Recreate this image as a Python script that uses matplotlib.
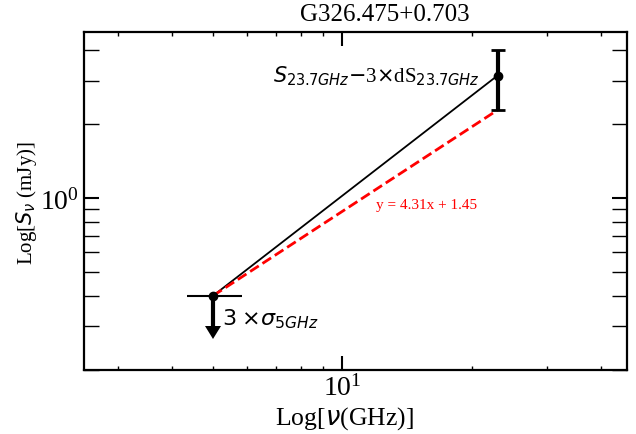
import matplotlib
matplotlib.use("Agg")
import matplotlib.pyplot as plt

plt.rcParams['font.family'] = ['Liberation Serif', 'DejaVu Serif']

# frequencies (GHz) and flux densities (mJy)
nu_lo, s_lo = 5.0, 0.4        # 3 sigma upper limit at 5 GHz
nu_hi, s_hi = 23.0, 3.15      # detection at 23.7 GHz
ds_hi = 0.87                  # 3 x dS at 23.7 GHz
lim_len = 0.1                 # length of the upper limit arrow
lim_span = [4.35, 5.85]       # horizontal bar at the limit
fit_label = "y = 4.31x + 1.45"

fig = plt.figure(figsize=(6.36, 4.35), dpi=100)
ax = fig.add_axes([0.132, 0.148, 0.8535, 0.7755])

# straight line between the two points
ax.plot([nu_lo, nu_hi], [s_lo, s_hi], color='k', lw=1.3, zorder=2)
# dashed line to the lower end of the 23.7 GHz error
ax.plot([nu_lo, nu_hi], [s_lo, s_hi - ds_hi], color='red', lw=2, ls='--', zorder=2)

ax.errorbar(nu_hi, s_hi, yerr=ds_hi, fmt='o', color='k', ms=6,
            elinewidth=3, capsize=4.7, capthick=2, zorder=3)
ax.errorbar(nu_lo, s_lo, yerr=lim_len, uplims=True, fmt='o', color='k', ms=6,
            elinewidth=3, capsize=6, capthick=0, zorder=3)
ax.hlines(s_lo, lim_span[0], lim_span[1], color='k', lw=1.5, zorder=3)

ax.set_xscale('log')
ax.set_yscale('log')
ax.set_xlim(nu_lo / 2, nu_hi * 2)
ax.set_ylim(s_lo / 2, s_hi * 1.5)

ax.annotate(r'$S_{23.7GHz}$$-$3$\times$dS$_{23.7GHz}$', xy=(nu_hi, s_hi),
            xytext=(-13, 0), textcoords='offset points', ha='right', va='center',
            fontsize=15)
ax.annotate(r'$3$ $\times\sigma_{5GHz}$', xy=(nu_lo, s_lo),
            xytext=(6.5, -16), textcoords='offset points', ha='left', va='center',
            fontsize=16)
ax.text(12.0, 0.94, fit_label, color='red', fontsize=11, ha='left', va='center')

ax.set_title('G326.475+0.703', fontsize=18, x=0.554, pad=9)
ax.set_xlabel(r'Log[$\nu$(GHz)]', fontsize=18.5, labelpad=2, x=0.479)
ax.set_ylabel(r'Log[$S_\nu$ (mJy)]', fontsize=15, labelpad=1, y=0.497)

ax.tick_params(which='both', direction='in', top=True, right=True, labelsize=20)
ax.tick_params(axis='x', which='major', length=10, width=1.5)
ax.tick_params(axis='x', which='minor', length=3, width=1)
ax.tick_params(axis='y', which='major', length=11, width=1.5)
ax.tick_params(axis='y', which='minor', length=11, width=1)
for s in ax.spines.values():
    s.set_linewidth(1.6)

fig.savefig('out.png', dpi=100)
